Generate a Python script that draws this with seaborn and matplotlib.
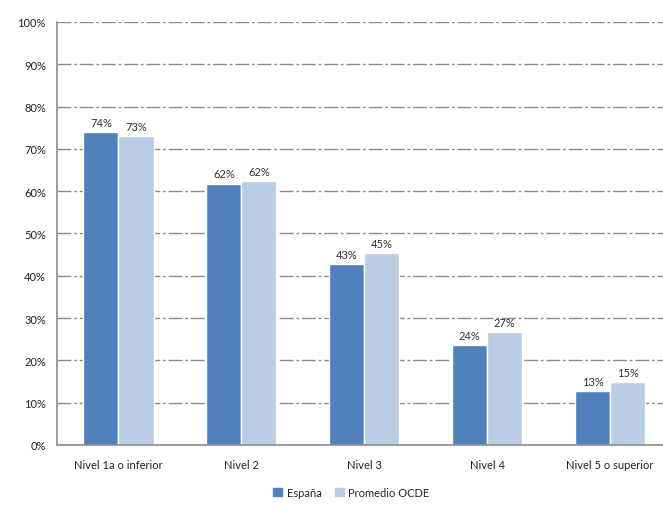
import pandas as pd
import matplotlib.pyplot as plt
import seaborn as sns

# data
niveles = ['Nivel 1a o inferior', 'Nivel 2', 'Nivel 3', 'Nivel 4', 'Nivel 5 o superior']
espana = [74.0, 61.8, 42.7, 23.6, 12.8]
ocde = [73.0, 62.3, 45.4, 26.7, 14.9]
series = ['España', 'Promedio OCDE']
colores = ['#4F81BD', '#B9CDE5']

df = pd.DataFrame({
    'nivel': niveles * 2,
    'valor': espana + ocde,
    'serie': [series[0]] * len(niveles) + [series[1]] * len(niveles),
})

sns.set_style('white')
plt.rcParams['font.family'] = ['Lato', 'DejaVu Sans']

fig = plt.figure(figsize=(6.63, 5.10), dpi=100)
ax = fig.add_axes([0.086, 0.1255, 0.914, 0.8295])
sns.barplot(data=df, x='nivel', y='valor', hue='serie', palette=colores,
            width=0.57, ax=ax, legend=False, saturation=1)

for cont in ax.containers:
    ax.bar_label(cont, labels=[f'{v:.0f}%' for v in cont.datavalues],
                 padding=3, fontsize=8, color='#333333')

ax.set_ylim(0, 100)
ax.set_xlim(-0.5, 4.43)
ax.set_yticks(range(0, 101, 10))
ax.set_yticklabels([f'{t}%' for t in range(0, 101, 10)])
ax.set_xlabel('')
ax.set_ylabel('')
ax.tick_params(axis='both', labelsize=8, colors='#222222', length=0)
ax.tick_params(axis='x', pad=10)
ax.tick_params(axis='y', pad=8)
ax.grid(axis='y', color='#8c8c8c', linestyle=(0, (10, 2, 2, 2)), linewidth=1)
ax.set_axisbelow(True)
for s in ['top', 'right']:
    ax.spines[s].set_visible(False)
for s in ['left', 'bottom']:
    ax.spines[s].set_color('#8c8c8c')
    ax.spines[s].set_linewidth(1.2)

handles = [plt.Rectangle((0, 0), 1, 1, color=c) for c in colores]
fig.legend(handles, series, loc='center', bbox_to_anchor=(0.53, 0.033), ncol=2,
           frameon=False, fontsize=8, handlelength=0.8, handleheight=0.8,
           handletextpad=0.4, columnspacing=1.2)

fig.savefig('out.png', dpi=100)
